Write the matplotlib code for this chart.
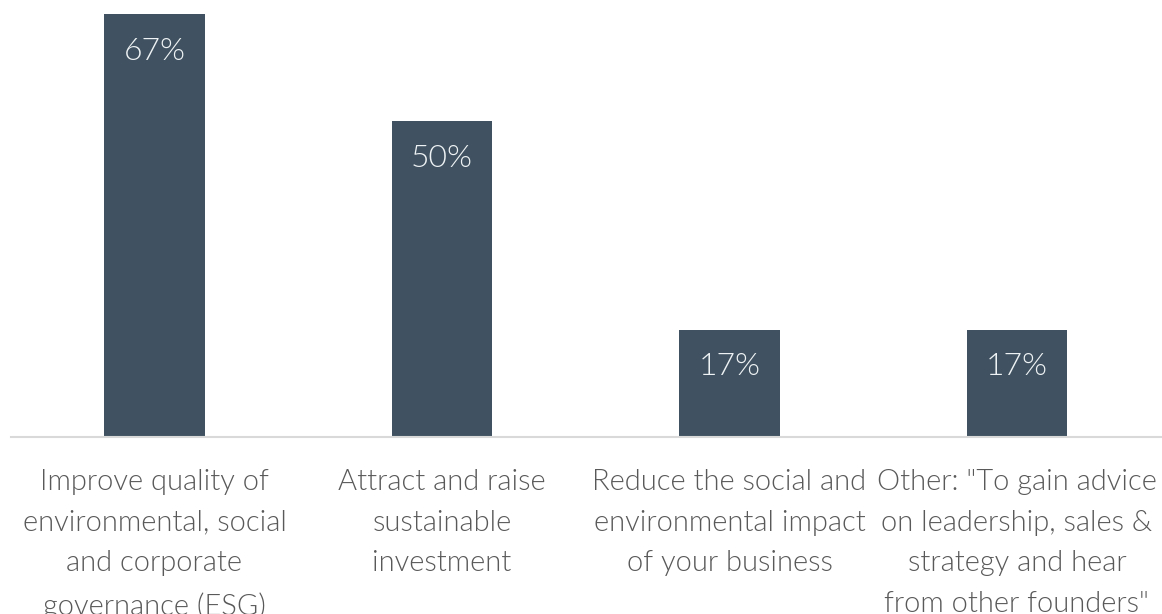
import matplotlib
matplotlib.use("Agg")
import matplotlib.pyplot as plt

# Survey responses: share of respondents per motivation
categories = [
    "Improve quality of\nenvironmental, social\nand corporate\ngovernance (ESG)",
    "Attract and raise\nsustainable\ninvestment",
    "Reduce the social and\nenvironmental impact\nof your business",
    "Other: \"To gain advice\non leadership, sales &\nstrategy and hear\nfrom other founders\"",
]
values = [67, 50, 17, 17]
value_labels = ["67%", "50%", "17%", "17%"]

bar_color = "#405261"
text_color = "#595959"

plt.rcParams["font.family"] = ["Lato", "DejaVu Sans"]

fig = plt.figure(figsize=(11.62, 6.14), dpi=100)
ax = fig.add_axes([10.75 / 1162, 177 / 614, 1150 / 1162, 423 / 614])

x = list(range(len(values)))
bars = ax.bar(x, values, width=0.35, color=bar_color, zorder=2)

ax.set_xlim(-0.5, len(values) - 0.5)
ax.set_ylim(0, 67)

for rect, lab in zip(bars, value_labels):
    ax.annotate(lab, (rect.get_x() + rect.get_width() / 2, rect.get_height()),
                xytext=(0, -37), textcoords="offset pixels",
                ha="center", va="center", color="#eef2f4",
                fontsize=23, fontweight=300)

ax.set_xticks(x)
ax.set_xticklabels(categories, fontsize=21, fontweight=300,
                   color=text_color, linespacing=1.7, va="top")
ax.tick_params(axis="x", length=0, pad=23)
ax.set_yticks([])

for side in ["top", "right", "left"]:
    ax.spines[side].set_visible(False)
ax.spines["bottom"].set_color("#d9d9d9")
ax.spines["bottom"].set_linewidth(1.5)

fig.savefig("out.png", dpi=100, facecolor="white")
